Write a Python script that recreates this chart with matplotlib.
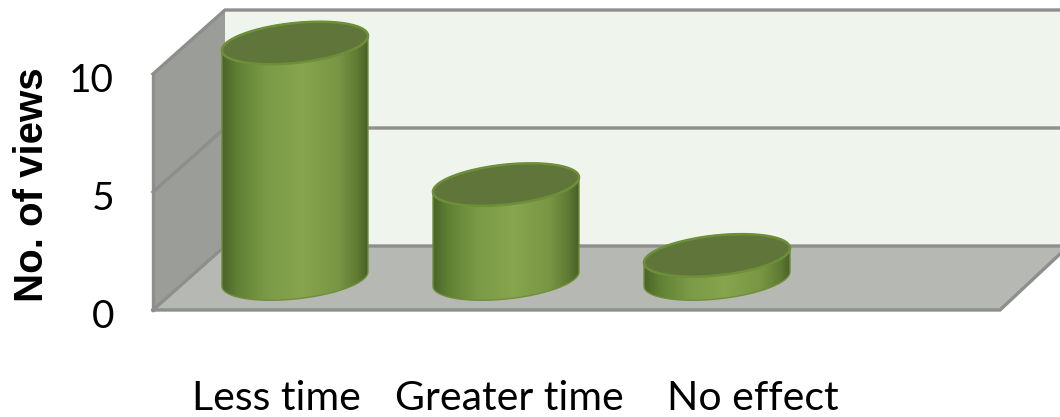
"""
Number of views by reading time: 3D-style cylinder column chart.
"""

import numpy as np
import matplotlib
matplotlib.use("Agg")
import matplotlib.pyplot as plt
from matplotlib.colors import LinearSegmentedColormap
from matplotlib.patches import Polygon, PathPatch
from matplotlib.path import Path
from matplotlib.transforms import ScaledTranslation

categories = ["Less time", "Greater time", "No effect"]
views = [10, 4, 1]
y_ticks = [0, 5, 10]
y_label = "No. of views"

# ── Layout, all in pixels of the 1060x417 figure ──────────────────────────────
W, H = 1060, 417
FRONT_LEFT, FRONT_BASE, PX_PER_VIEW = 153, 310, 23.6
FIRST_X, STEP_X = 295, 211
DEPTH_X, DEPTH_Y = 72, 64
LABEL_SHIFT = [-19, 3, 36]      # category labels do not sit under their columns

WALL = "#eff4ec"
SIDE = "#9b9d99"
FLOOR = "#b6b8b3"
LINE = "#8e8e8e"
RIM = "#6d8f37"
TOP = "#60753a"

shade = LinearSegmentedColormap.from_list("cyl", [
    (0.00, "#4a6428"), (0.10, "#5f7f33"), (0.30, "#7b9a47"), (0.55, "#87a44e"),
    (0.80, "#789644"), (0.93, "#5f7a33"), (1.00, "#4a5f28"),
])

fig = plt.figure(figsize=(W / 100, H / 100), dpi=100)
ax = fig.add_axes([FRONT_LEFT / W, (H - FRONT_BASE) / H,
                   (W - FRONT_LEFT) / W, 10 * PX_PER_VIEW / H])
xlim = ((FRONT_LEFT - FIRST_X) / STEP_X, (W - FIRST_X) / STEP_X)
ylim = (0, 10)


def xpx(dx):
    return dx / STEP_X


def ypx(dy):
    return dy / PX_PER_VIEW


# ── Walls and floor ───────────────────────────────────────────────────────────
x0 = xlim[0]
x1 = xlim[1]
back_x = x0 + xpx(DEPTH_X)
back_base = ypx(DEPTH_Y)
top = ylim[1]
floor_end = x0 + xpx(1000 - FRONT_LEFT)

ax.add_patch(Polygon([[back_x, back_base], [x1, back_base], [x1, top + back_base],
                      [back_x, top + back_base]], fc=WALL, ec="none", zorder=1, clip_on=False))
ax.add_patch(Polygon([[x0, 0], [back_x, back_base], [back_x, top + back_base], [x0, top]],
                     fc=SIDE, ec="none", zorder=1, clip_on=False))
ax.add_patch(Polygon([[x0, 0], [back_x, back_base], [x1, back_base],
                      [x1, ypx(56)], [floor_end, 0]],
                     fc=FLOOR, ec="none", zorder=1, clip_on=False))

# gridlines run across the side wall and then along the back wall
for t in y_ticks:
    ax.plot([x0, back_x, x1], [t, t + back_base, t + back_base], color=LINE, lw=2.4,
            zorder=2, clip_on=False, solid_joinstyle="miter")
ax.plot([x0, x0], [0, top], color=LINE, lw=2.4, zorder=2, clip_on=False)
ax.plot([x0, floor_end, x1], [0, 0, ypx(56)], color=LINE, lw=2.4, zorder=2,
        clip_on=False, solid_joinstyle="miter")


# ── Cylinders ─────────────────────────────────────────────────────────────────
def ellipse_xy(cx, cy, t):
    # tilted ellipse: the right end sits higher than the left
    return (cx + xpx(73) * np.cos(t),
            cy + ypx(20) * np.sin(t) + ypx(7.2) * np.cos(t))


floor_y = ypx(31)
gradient = np.linspace(0, 1, 256).reshape(1, -1)
for i, v in enumerate(views):
    t_low = np.linspace(np.pi, 2 * np.pi, 80)
    t_up = np.linspace(0, np.pi, 80)
    low_x, low_y = ellipse_xy(i, floor_y, t_low)
    up_x, up_y = ellipse_xy(i, floor_y + v, t_up)
    body = np.column_stack([np.r_[low_x, up_x], np.r_[low_y, up_y]])
    body_path = Path(np.vstack([body, body[0]]), closed=True)

    im = ax.imshow(gradient, cmap=shade, aspect="auto", zorder=3,
                   extent=[i - xpx(73), i + xpx(73), floor_y - ypx(30), floor_y + v + ypx(30)])
    im.set_clip_box(fig.bbox)
    im.set_clip_path(body_path, ax.transData)
    ax.add_patch(PathPatch(body_path, fc="none", ec=RIM, lw=1.0, zorder=4, clip_on=False))

    t = np.linspace(0, 2 * np.pi, 160)
    cap_x, cap_y = ellipse_xy(i, floor_y + v, t)
    ax.add_patch(Polygon(np.column_stack([cap_x, cap_y]), fc=TOP, ec=RIM, lw=1.8,
                         zorder=5, clip_on=False))

ax.set_xlim(xlim)
ax.set_ylim(ylim)

# ── Axis text ─────────────────────────────────────────────────────────────────
for s in ax.spines.values():
    s.set_visible(False)
ax.set_xticks([])
ax.set_yticks(y_ticks)
ax.set_yticklabels([str(t) for t in y_ticks], fontfamily="Lato", fontsize=28)
ax.tick_params(axis="y", length=0, pad=28)
nudge = ScaledTranslation(0, -4 / 100, fig.dpi_scale_trans)
for lab in ax.get_yticklabels():
    lab.set_transform(lab.get_transform() + nudge)

ax.set_ylabel(y_label, fontfamily="Liberation Sans", fontweight="bold", fontsize=29,
              y=0.53, labelpad=13)

for i, name in enumerate(categories):
    ax.annotate(name, xy=(i, 0), xytext=(LABEL_SHIFT[i], -88), textcoords="offset pixels",
                ha="center", va="center", fontfamily="Lato", fontsize=29.5, annotation_clip=False)

fig.savefig("out.png", dpi=100)
plt.close()
